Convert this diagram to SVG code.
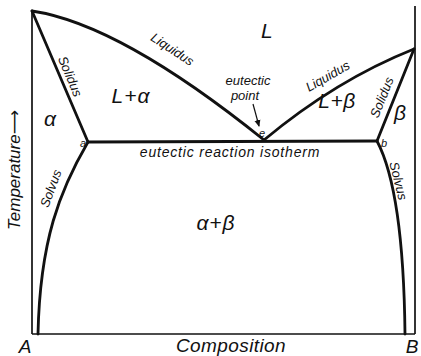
<svg xmlns="http://www.w3.org/2000/svg" width="421" height="356" viewBox="0 0 421 356">
<defs>
<style>
.ln{fill:none;stroke:#111;stroke-width:2.8;stroke-linecap:round;stroke-linejoin:round}
.ax{fill:none;stroke:#111;stroke-width:1.7}
.t{font-family:"Liberation Sans","DejaVu Sans",sans-serif;font-style:italic;fill:#111}
.ph{font-size:21px}
.lb{font-size:13px}
</style>
<marker id="ah" markerWidth="8" markerHeight="8" refX="6" refY="4" orient="auto" markerUnits="userSpaceOnUse">
<path d="M0,1 L7,4 L0,7 Z" fill="#111"/>
</marker>
</defs>
<rect width="421" height="356" fill="#fff"/>
<g id="axes">
<line class="ax" x1="32" y1="11" x2="32" y2="334"/>
<line class="ax" x1="415" y1="6" x2="415" y2="334"/>
<line class="ax" x1="32" y1="334" x2="415" y2="334"/>
</g>
<g id="connectors">
<path class="ln" d="M32,11 Q120,24 264,140"/>
<path class="ln" d="M264,140 Q336,80 414,49"/>
<path class="ln" d="M32,11 L88,142"/>
<path class="ln" d="M414,49 L377,141"/>
<path class="ln" d="M88,142 L377,141"/>
<path class="ln" d="M88,142 C60,190 40,240 38,334"/>
<path class="ln" d="M377,141 C395,175 404,240 405,334"/>
<path fill="none" stroke="#111" stroke-width="1.2" d="M253,104 L259,126" marker-end="url(#ah)"/>
</g>
<g id="phases">
<text class="t ph" x="261" y="38" font-size="19">L</text>
<text class="t ph" x="131" y="103" text-anchor="middle" letter-spacing="1">L+α</text>
<text class="t ph" x="50" y="126" text-anchor="middle" font-size="22">α</text>
<text class="t ph" x="337" y="108" text-anchor="middle" letter-spacing="0.5">L+β</text>
<text class="t ph" x="400" y="120" text-anchor="middle" font-size="22">β</text>
<text class="t ph" x="216" y="230" text-anchor="middle" letter-spacing="1">α+β</text>
</g>
<g id="line-labels">
<text class="t lb" transform="translate(170,53) rotate(33)" text-anchor="middle">Liquidus</text>
<text class="t lb" transform="translate(330,80) rotate(-30)" text-anchor="middle">Liquidus</text>
<text class="t lb" transform="translate(66,78) rotate(67)" text-anchor="middle">Solidus</text>
<text class="t lb" transform="translate(386,99) rotate(-68)" text-anchor="middle">Solidus</text>
<text class="t lb" transform="translate(55,190) rotate(-70)" text-anchor="middle">Solvus</text>
<text class="t lb" transform="translate(394,182) rotate(76)" text-anchor="middle">Solvus</text>
<text class="t" x="248" y="85" text-anchor="middle" font-size="13">eutectic</text>
<text class="t" x="245" y="100" text-anchor="middle" font-size="13">point</text>
<text class="t" x="262" y="137" text-anchor="middle" font-size="11">e</text>
<text class="t" x="83" y="147" text-anchor="middle" font-size="11">a</text>
<text class="t" x="384" y="147" text-anchor="middle" font-size="11">b</text>
<text class="t" x="230" y="157" text-anchor="middle" font-size="14" letter-spacing="0.8">eutectic reaction isotherm</text>
</g>
<g id="axis-labels">
<text class="t" transform="translate(20,170) rotate(-90)" text-anchor="middle" font-size="17">Temperature⟶</text>
<text class="t" x="231" y="352" text-anchor="middle" font-size="19" letter-spacing="0.4">Composition</text>
<text class="t" x="25" y="353" text-anchor="middle" font-size="19">A</text>
<text class="t" x="412" y="353" text-anchor="middle" font-size="19">B</text>
</g>
</svg>
